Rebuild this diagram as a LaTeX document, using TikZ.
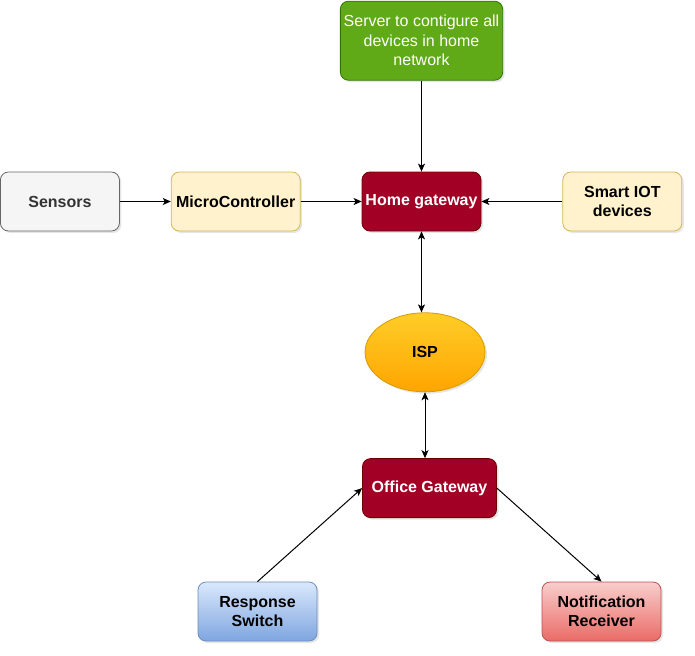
\documentclass[tikz,border=0pt]{standalone}
\usepackage{fontspec}
\setmainfont{Liberation Sans}
\usetikzlibrary{arrows.meta, positioning, shapes.geometric, shadows}
\definecolor{srvfill}{HTML}{60A917}
\definecolor{srvline}{HTML}{2D7600}
\definecolor{grayfill}{HTML}{F5F5F5}
\definecolor{grayline}{HTML}{666666}
\definecolor{graytext}{HTML}{333333}
\definecolor{yelfill}{HTML}{FFF2CC}
\definecolor{yelline}{HTML}{D6B656}
\definecolor{gwfill}{HTML}{A20025}
\definecolor{gwline}{HTML}{6F0000}
\definecolor{isptop}{HTML}{FFCD28}
\definecolor{ispbot}{HTML}{FFA500}
\definecolor{ispline}{HTML}{D79B00}
\definecolor{bluetop}{HTML}{DAE8FC}
\definecolor{bluebot}{HTML}{7EA6E0}
\definecolor{blueline}{HTML}{6C8EBF}
\definecolor{redtop}{HTML}{F8CECC}
\definecolor{redbot}{HTML}{EA6B66}
\definecolor{redline}{HTML}{B85450}
\tikzset{
	box/.style={
		draw,
		rounded corners=8pt,
		minimum width=119pt,
		minimum height=59pt,
		align=center,
		line width=0.8pt,
		font=\fontsize{16}{19}\selectfont\bfseries,
		drop shadow={shadow xshift=2pt, shadow yshift=-2pt, opacity=0.2}
	},
	arrow/.style={
		-{Stealth[length=8pt, width=7pt, inset=2pt]},
		line width=1pt
	},
	twoway/.style={
		{Stealth[length=8pt, width=7pt, inset=2pt]}-{Stealth[length=8pt, width=7pt, inset=2pt]},
		line width=1pt
	}
}

\begin{document}
\begin{tikzpicture}[x=1pt, y=-1pt]
	\useasboundingbox (0,0) rectangle (695,655);
	
	% Home side
	\node[box, fill=gwfill, draw=gwline, text=white] (home) at (421.5,201.5) {Home gateway};
	\node[box, fill=yelfill, draw=yelline, minimum width=129pt, left=61pt of home] (mcu) {MicroController};
	\node[box, fill=grayfill, draw=grayline, text=graytext, left=51pt of mcu] (sensors) {Sensors};
	\node[box, fill=yelfill, draw=yelline, right=81pt of home] (iot) {Smart IOT\\devices};
	\node[box, fill=srvfill, draw=srvline, text=white, minimum width=160pt, minimum height=79pt,
		font=\fontsize{16}{19.5}\selectfont, above=91pt of home] (server) {Server to contigure all\\devices in home\\network};
	
	% Provider
	\node[box, ellipse, rounded corners=0pt, top color=isptop, bottom color=ispbot, draw=ispline,
		minimum width=120pt, minimum height=79pt, below=81pt of home, xshift=3.5pt] (isp) {ISP};
	
	% Office side
	\node[box, fill=gwfill, draw=gwline, text=white, minimum width=134pt, below=66pt of isp, xshift=4.5pt] (office) {Office Gateway};
	\node[box, top color=bluetop, bottom color=bluebot, draw=blueline] (switch) at (257.5,611.5) {Response\\Switch};
	\node[box, top color=redtop, bottom color=redbot, draw=redline] (receiver) at (601.5,611.5) {Notification\\Receiver};
	
	% Links to home gateway
	\draw[arrow] (server) -- (home);
	\draw[arrow] (sensors) -- (mcu);
	\draw[arrow] (mcu) -- (home);
	\draw[arrow] (iot) -- (home);
	
	% Links through ISP
	\draw[twoway] (home.south) -- (home.south |- isp.north);
	\draw[twoway] (isp.south) -- (isp.south |- office.north);
	
	% Office devices
	\draw[arrow] (switch.north) -- (office.west);
	\draw[arrow] (office.east) -- (receiver.north);
	
\end{tikzpicture}
\end{document}
